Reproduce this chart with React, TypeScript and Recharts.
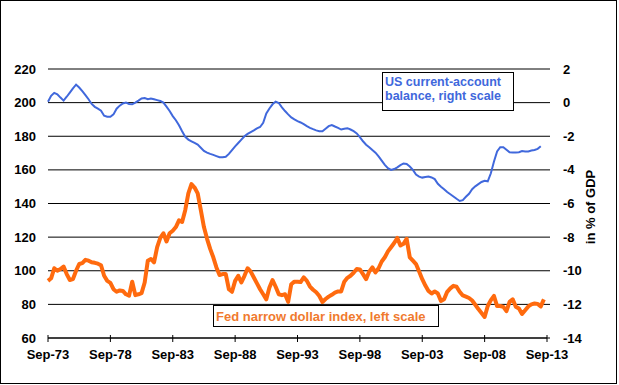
import { LineChart, Line, XAxis, YAxis, CartesianGrid } from 'recharts';

// quarterly readings, first point Sep-73
const dollarIndex = [
  94, 95.5, 101.5, 100, 101, 102.5, 98, 94.5, 95, 100,
  104, 104.5, 106.5, 106, 105, 104.7, 104.2, 103.3, 97, 94,
  92.8, 89, 87.5, 88.3, 88, 86, 85.2, 93.5, 85.5, 86,
  86.7, 93, 106, 107, 105, 114, 119.5, 122.3, 117.4, 122.3,
  123.8, 126, 130, 129, 136, 146, 151.5, 149.5, 146, 136,
  126, 119, 113, 108, 102, 97.5, 98, 98, 89, 87.5,
  94, 97, 93, 97, 101.5, 99.5, 96, 92.5, 89, 86,
  83, 90, 94.5, 90.5, 86, 85.5, 86, 81.5, 92, 93.5,
  93.5, 93.3, 96, 94, 90.6, 88.7, 87.2, 85, 81.4, 83.2,
  84.6, 85.7, 87, 87.7, 87.7, 93.5, 95.8, 97, 98.8, 101,
  100.8, 98, 95, 99.5, 102, 99, 101.5, 105.5, 108, 111.5,
  114, 116.5, 119.5, 115, 116, 119, 108, 106, 104, 99.5,
  95, 91.2, 88, 86.5, 87.7, 86.5, 82, 83, 87.5, 89.5,
  91, 90.5, 87.5, 85.3, 84.6, 83.8, 82.3, 79.8, 77.2, 74.9,
  72.5, 79, 82.5, 85, 79, 79, 78.5, 76, 81.5, 83,
  78.6, 77.5, 74.3, 76.5, 78.8, 80, 80.5, 80.3, 78.8, 83,
];

// quarterly, % of GDP, first point Sep-73
const currentAccount = [
  0.05, 0.4, 0.58, 0.5, 0.3, 0.12, 0.35, 0.6, 0.85, 1.07,
  0.9, 0.68, 0.45, 0.2, -0.08, -0.25, -0.36, -0.48, -0.78, -0.84,
  -0.84, -0.7, -0.36, -0.18, -0.05, 0, -0.08, -0.1, 0, 0.12,
  0.25, 0.27, 0.2, 0.25, 0.2, 0.15, 0.1, 0, -0.24, -0.5,
  -0.8, -1.05, -1.35, -1.7, -2.03, -2.2, -2.3, -2.4, -2.5, -2.68,
  -2.87, -2.97, -3.05, -3.11, -3.18, -3.25, -3.25, -3.22, -3.05, -2.82,
  -2.6, -2.4, -2.2, -2, -1.86, -1.75, -1.65, -1.53, -1.45, -1.2,
  -0.65, -0.35, -0.1, 0.06, -0.02, -0.28, -0.5, -0.7, -0.88, -1,
  -1.1, -1.18, -1.28, -1.4, -1.5, -1.58, -1.65, -1.7, -1.7, -1.55,
  -1.4, -1.33, -1.42, -1.5, -1.6, -1.55, -1.52, -1.6, -1.7, -1.83,
  -2.05, -2.3, -2.5, -2.65, -2.82, -2.98, -3.2, -3.45, -3.7, -3.9,
  -4, -3.95, -3.85, -3.72, -3.62, -3.65, -3.8, -4, -4.28, -4.4,
  -4.46, -4.43, -4.4, -4.45, -4.55, -4.83, -5, -5.15, -5.32, -5.45,
  -5.58, -5.72, -5.85, -5.8, -5.6, -5.42, -5.15, -4.98, -4.85, -4.72,
  -4.65, -4.68, -4.2, -3.5, -2.9, -2.65, -2.65, -2.8, -2.95, -2.97,
  -2.97, -2.95, -2.88, -2.9, -2.9, -2.85, -2.82, -2.75, -2.6,
];

const START = 1973.75;
const xTicks = [1973.75, 1978.75, 1983.75, 1988.75, 1993.75, 1998.75, 2003.75, 2008.75, 2013.75];
const leftTicks = [60, 80, 100, 120, 140, 160, 180, 200, 220];
const rightTicks = [-14, -12, -10, -8, -6, -4, -2, 0, 2];

const toSeries = (vals: number[]) => vals.map((v, i) => ({ t: START + i * 0.25, v }));
const dollarData = toSeries(dollarIndex);
const caData = toSeries(currentAccount);

const FONT = '"Liberation Sans", Arial, sans-serif';
const BLUE = '#4068dc';
const ORANGE = '#ff6a0e';

const fmtDate = (t: number) => 'Sep-' + String(Math.round(t - 0.75) % 100).padStart(2, '0');

const XTick = (props: any) => {
  const { x, y, payload } = props;
  return (
    <g>
      <line x1={x} x2={x} y1={y - 3} y2={y + 4} stroke="#000" />
      <text x={x} y={y + 21} textAnchor="middle" fontFamily={FONT} fontWeight="bold" fontSize={13} fill="#000">
        {fmtDate(payload.value)}
      </text>
    </g>
  );
};

const tickStyle = { fill: '#000', fontFamily: FONT, fontWeight: 'bold', fontSize: 13 } as any;

export default function App() {
  return (
    <div style={{ position: 'relative', width: 619, height: 385, background: '#fff' }}>
      <style>{'body{margin:0}'}</style>
      <LineChart width={619} height={385} data={dollarData} margin={{ top: 69, right: 0, bottom: 0, left: 0 }}>
        <CartesianGrid vertical={false} stroke="#000" yAxisId="left" />
        <XAxis
          dataKey="t"
          type="number"
          domain={[START, 2013.75]}
          ticks={xTicks}
          height={47}
          axisLine={{ stroke: '#000' }}
          tickLine={false}
          tickSize={0}
          tickMargin={0}
          tick={<XTick />}
          allowDuplicatedCategory={false}
        />
        <YAxis
          yAxisId="left"
          domain={[60, 220]}
          ticks={leftTicks}
          width={48}
          axisLine={false}
          tickLine={false}
          tickSize={0}
          tickMargin={12}
          tick={tickStyle}
          interval={0}
        />
        <YAxis
          yAxisId="right"
          orientation="right"
          domain={[-14, 2]}
          ticks={rightTicks}
          width={72}
          axisLine={false}
          tickLine={{ stroke: '#000' }}
          tickSize={3}
          tickMargin={13}
          tick={{ ...tickStyle, textAnchor: 'start' }}
          interval={0}
        />
        <Line
          yAxisId="right"
          data={caData}
          dataKey="v"
          type="linear"
          stroke={BLUE}
          strokeWidth={2}
          dot={false}
          isAnimationActive={false}
        />
        <Line
          yAxisId="left"
          data={dollarData}
          dataKey="v"
          type="linear"
          stroke={ORANGE}
          strokeWidth={4}
          strokeLinejoin="round"
          dot={false}
          isAnimationActive={false}
        />
      </LineChart>
      <svg width={619} height={385} style={{ position: 'absolute', left: 0, top: 0, pointerEvents: 'none' }}>
        <rect x={0.5} y={0.5} width={616} height={383} fill="none" stroke="#000" />
        <rect x={382.5} y={72.5} width={131} height={38} fill="#fff" stroke="#000" />
        <text fontFamily={FONT} fontWeight="bold" fontSize={12.5} fill={BLUE}>
          <tspan x={385} y={86}>US current-account</tspan>
          <tspan x={385} y={100}>balance, right scale</tspan>
        </text>
        <rect x={213.5} y={305.5} width={225} height={21} fill="#fff" stroke="#000" />
        <text x={216} y={321} fontFamily={FONT} fontWeight="bold" fontSize={13} fill="#f07a2e">
          Fed narrow dollar index, left scale
        </text>
        <text
          transform="translate(595,207) rotate(-90)"
          textAnchor="middle"
          fontFamily={FONT}
          fontWeight="bold"
          fontSize={13}
          fill="#000"
        >
          in % of GDP
        </text>
      </svg>
    </div>
  );
}
